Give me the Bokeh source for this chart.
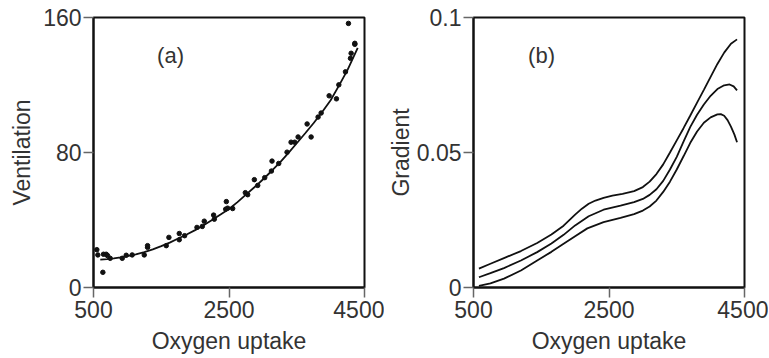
from bokeh.plotting import figure
from bokeh.layouts import row
from bokeh.models import Range1d, FixedTicker, CustomJSTickFormatter, Label
from bokeh.embed import file_html
from bokeh.resources import INLINE

# ---- Data: panel (a) ----
vo2_pts = [549, 564, 638, 648, 687, 707, 746, 924, 983, 1071, 1249, 1298, 1298, 1574, 1613,
           1766, 1766, 1845, 2027, 2106, 2135, 2273, 2283, 2451, 2461, 2480, 2554, 2741, 2776,
           2874, 2924, 3027, 3126, 3135, 3234, 3357, 3416, 3470, 3520, 3653, 3712, 3815, 3860,
           3978, 4086, 4121, 4219, 4263, 4293, 4303, 4357, 4357]
vent_pts = [22.4, 19.3, 9.0, 19.7, 19.7, 18.9, 17.3, 17.3, 19.1, 19.3, 19.3, 23.8, 24.8, 24.8, 29.7,
            28.3, 32.0, 30.7, 35.6, 36.2, 39.3, 42.9, 40.5, 46.4, 50.9, 47.0, 46.8, 56.2, 55.0,
            63.9, 60.5, 65.1, 69.0, 74.9, 73.5, 80.2, 86.1, 86.1, 89.2, 96.9, 89.2, 101.0, 103.4,
            113.6, 111.8, 120.1, 127.8, 156.5, 135.8, 138.8, 144.1, 144.7]
fit_x = [600, 700, 800, 900, 1000, 1125, 1250, 1375, 1500, 1625, 1750, 1875, 2000, 2125, 2250,
         2375, 2500, 2625, 2750, 2875, 3000, 3125, 3250, 3375, 3500, 3625, 3750, 3875, 4000,
         4125, 4250, 4325, 4400]
fit_y = [16.5, 16.8, 17.2, 17.8, 18.6, 19.7, 21.0, 22.6, 24.5, 26.6, 29.0, 31.4, 34.0, 36.9, 40.0,
         43.2, 46.5, 50.6, 55.0, 59.4, 64.0, 68.9, 74.0, 79.6, 85.5, 91.4, 97.5, 104.0, 111.0,
         119.8, 129.0, 135.5, 142.0]

# ---- Data: panel (b) ----
up_x = [580, 750, 950, 1200, 1440, 1650, 1830, 2000, 2100, 2200, 2300, 2420, 2550, 2700, 2870,
        3000, 3100, 3200, 3300, 3400, 3500, 3600, 3700, 3800, 3900, 4000, 4100, 4200, 4300, 4390]
up_y = [0.0070, 0.0088, 0.0109, 0.0135, 0.0165, 0.0196, 0.0229, 0.0270, 0.0292, 0.0310, 0.0322,
        0.0332, 0.0340, 0.0347, 0.0357, 0.0372, 0.0392, 0.0420, 0.0456, 0.0500, 0.0545, 0.0590,
        0.0637, 0.0685, 0.0732, 0.0780, 0.0828, 0.0870, 0.0903, 0.0919]
mid_x = [580, 750, 950, 1200, 1440, 1650, 1830, 2000, 2200, 2420, 2670, 2870, 3000, 3100, 3200,
         3300, 3400, 3500, 3600, 3700, 3800, 3900, 4000, 4100, 4200, 4280, 4340, 4390]
mid_y = [0.0038, 0.0053, 0.0072, 0.0100, 0.0131, 0.0163, 0.0195, 0.0230, 0.0264, 0.0288, 0.0303,
         0.0316, 0.0328, 0.0343, 0.0364, 0.0395, 0.0437, 0.0484, 0.0540, 0.0595, 0.0640, 0.0678,
         0.0710, 0.0735, 0.0749, 0.0752, 0.0745, 0.0730]
low_x = [580, 750, 950, 1200, 1440, 1650, 1830, 2000, 2180, 2420, 2670, 2870, 3000, 3100, 3200,
         3300, 3400, 3500, 3600, 3700, 3800, 3900, 4000, 4100, 4150, 4200, 4250, 4300, 4350, 4390]
low_y = [0.0006, 0.0015, 0.0033, 0.0063, 0.0100, 0.0132, 0.0162, 0.0190, 0.0219, 0.0242, 0.0258,
         0.0272, 0.0285, 0.0300, 0.0322, 0.0354, 0.0392, 0.0437, 0.0486, 0.0536, 0.0578, 0.0610,
         0.0630, 0.0641, 0.0642, 0.0636, 0.0620, 0.0596, 0.0567, 0.0538]

x_ticks = [500, 2500, 4500]
ya_ticks = [0, 80, 160]
yb_ticks = [0, 0.05, 0.1]

FONT = "Liberation Sans"
TXT = "#333333"


def style(p, yticks, y_label_standoff):
    p.outline_line_color = "#111111"
    p.outline_line_width = 2
    p.xgrid.visible = False
    p.ygrid.visible = False
    for ax in (p.xaxis[0], p.yaxis[0]):
        ax.axis_line_color = "#111111"
        ax.axis_line_width = 2
        ax.major_tick_line_color = "#666666"
        ax.major_tick_line_width = 1.5
        ax.major_tick_in = 0
        ax.major_tick_out = 10
        ax.minor_tick_line_color = None
        ax.major_label_text_font = FONT
        ax.major_label_text_font_size = "23px"
        ax.major_label_text_color = TXT
        ax.axis_label_text_font = FONT
        ax.axis_label_text_font_size = "23px"
        ax.axis_label_text_font_style = "normal"
        ax.axis_label_text_color = TXT
        ax.formatter = CustomJSTickFormatter(code="return tick.toString();")
    p.xaxis[0].major_label_standoff = 3
    p.xaxis[0].axis_label_standoff = 7
    p.yaxis[0].major_label_standoff = 2
    p.yaxis[0].axis_label_standoff = y_label_standoff
    p.xaxis[0].ticker = FixedTicker(ticks=x_ticks)
    p.yaxis[0].ticker = FixedTicker(ticks=yticks)
    p.xaxis[0].major_label_orientation = "horizontal"


p1 = figure(width=384, height=356, x_range=Range1d(500, 4500), y_range=Range1d(0, 160),
            output_backend="svg", toolbar_location=None,
            x_axis_label="Oxygen uptake", y_axis_label="Ventilation",
            min_border_left=93, min_border_right=20, min_border_top=17, min_border_bottom=67)
style(p1, ya_ticks, 5)
p1.scatter(vo2_pts, vent_pts, size=4.5, color="#111111")
p1.line(fit_x, fit_y, line_color="#111111", line_width=1.8)
p1.add_layout(Label(x=1637, y=137.6, text="(a)", text_font=FONT, text_font_size="22px",
                    text_color=TXT, text_align="center", text_baseline="middle"))

p2 = figure(width=384, height=356, x_range=Range1d(500, 4500), y_range=Range1d(0, 0.1),
            output_backend="svg", toolbar_location=None,
            x_axis_label="Oxygen uptake", y_axis_label="Gradient",
            min_border_left=89, min_border_right=24, min_border_top=17, min_border_bottom=67)
style(p2, yb_ticks, 0)
for xs, ys in ((up_x, up_y), (mid_x, mid_y), (low_x, low_y)):
    p2.line(xs, ys, line_color="#111111", line_width=1.8)
p2.add_layout(Label(x=1504, y=0.086, text="(b)", text_font=FONT, text_font_size="22px",
                    text_color=TXT, text_align="center", text_baseline="middle"))

layout = row(p1, p2)
open("out.html", "w").write(file_html(layout, INLINE))
